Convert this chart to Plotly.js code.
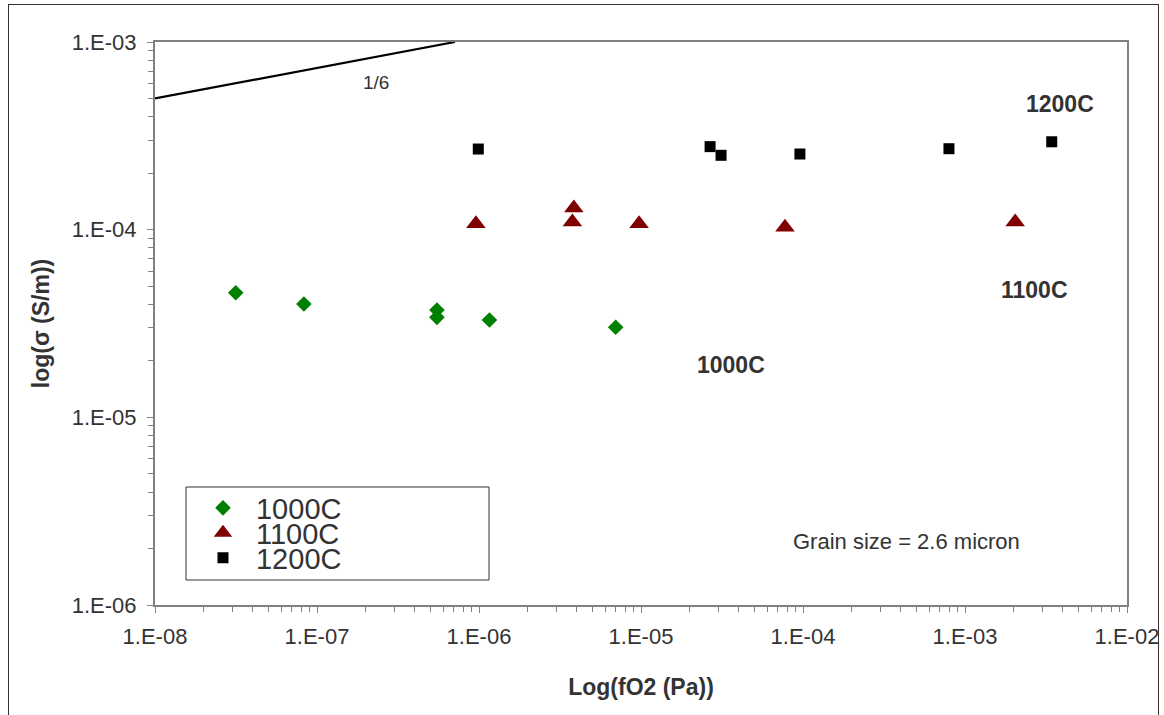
<!DOCTYPE html>
<html>
<head>
<meta charset="utf-8">
<script src="https://cdn.plot.ly/plotly-3.0.1.min.js"></script>
<style>
  html, body { margin: 0; padding: 0; background: #fff; }
  #chart { width: 1164px; height: 715px; position: absolute; left: 0; top: 0; }
  #frame { position: absolute; left: 8px; top: 4px; width: 1149px; height: 740px; border: 1px solid #333; pointer-events: none; }
</style>
</head>
<body>
<div id="chart"></div>
<div id="frame"></div>
<script>
// ---- data ----
const fo2_1000C = [3.15e-8, 8.3e-8, 5.5e-7, 5.5e-7, 1.16e-6, 6.98e-6];
const sig_1000C = [4.61e-5, 4.02e-5, 3.73e-5, 3.41e-5, 3.30e-5, 3.02e-5];

const fo2_1100C = [9.57e-7, 3.85e-6, 3.77e-6, 9.73e-6, 7.74e-5, 2.04e-3];
const sig_1100C = [1.075e-4, 1.305e-4, 1.10e-4, 1.075e-4, 1.03e-4, 1.10e-4];

const fo2_1200C = [9.9e-7, 2.67e-5, 3.12e-5, 9.57e-5, 7.96e-4, 3.43e-3];
const sig_1200C = [2.69e-4, 2.77e-4, 2.49e-4, 2.53e-4, 2.70e-4, 2.94e-4];

// reference slope line labelled 1/6
const slope_x = [1e-8, 7.1e-7];
const slope_y = [5e-4, 1e-3];

const seriesNames = ["1000C", "1100C", "1200C"];
const xTickVals = [1e-8, 1e-7, 1e-6, 1e-5, 1e-4, 1e-3, 1e-2];
const xTickText = ["1.E-08", "1.E-07", "1.E-06", "1.E-05", "1.E-04", "1.E-03", "1.E-02"];
const yTickVals = [1e-6, 1e-5, 1e-4, 1e-3];
const yTickText = ["1.E-06", "1.E-05", "1.E-04", "1.E-03"];
const minorDigits = [2, 3, 4, 5, 6, 7, 8, 9];

function minorTicks(decades) {
  const out = [];
  decades.forEach(d => { if (d < decades[decades.length - 1]) minorDigits.forEach(m => out.push(m * d)); });
  return out;
}

const FONT = "Liberation Sans, Arial, Helvetica, sans-serif";
const TXT = "#333333";

const traces = [
  { x: slope_x, y: slope_y, mode: "lines", line: { color: "#000", width: 2.2 }, showlegend: false, hoverinfo: "skip" },
  { x: fo2_1000C, y: sig_1000C, name: seriesNames[0], mode: "markers", legend: "legend",
    marker: { symbol: "diamond", size: 12, color: "#008000" } },
  { x: fo2_1100C, y: sig_1100C, name: seriesNames[1], mode: "markers", legend: "legend2",
    marker: { symbol: "triangle-up", size: 17, color: "#800000" } },
  { x: fo2_1200C, y: sig_1200C, name: seriesNames[2], mode: "markers", legend: "legend3",
    marker: { symbol: "square", size: 11, color: "#000000" } }
];

const legendBase = {
  x: 0.036, xanchor: "left", yanchor: "middle",
  bgcolor: "rgba(0,0,0,0)", borderwidth: 0,
  font: { family: FONT, size: 29, color: TXT },
  itemwidth: 56, itemclick: false, itemdoubleclick: false
};

const layout = {
  width: 1164, height: 715,
  margin: { l: 155, r: 37, t: 42, b: 110 },
  paper_bgcolor: "#fff", plot_bgcolor: "#fff",
  font: { family: FONT, color: TXT, size: 22 },
  xaxis: {
    type: "log", range: [-8, -2],
    tickvals: xTickVals, ticktext: xTickText,
    ticks: "outside", ticklen: 6, tickcolor: "#808080", tickwidth: 1,
    showline: true, mirror: true, linecolor: "#808080", linewidth: 2,
    showgrid: false, zeroline: false, ticklabelstandoff: 5,
    tickfont: { family: FONT, size: 22, color: TXT },
    minor: { tickvals: minorTicks(xTickVals), ticks: "outside", ticklen: 5, tickcolor: "#808080", showgrid: false },
    title: { text: "<b>Log(fO2 (Pa))</b>", font: { family: FONT, size: 23, color: TXT }, standoff: 30 }
  },
  yaxis: {
    type: "log", range: [-6, -3],
    tickvals: yTickVals, ticktext: yTickText,
    ticks: "outside", ticklen: 6, tickcolor: "#808080", tickwidth: 1,
    showline: true, mirror: true, linecolor: "#808080", linewidth: 2,
    showgrid: false, zeroline: false, ticklabelstandoff: 6,
    tickfont: { family: FONT, size: 22, color: TXT },
    minor: { tickvals: minorTicks(yTickVals), ticks: "outside", ticklen: 5, tickcolor: "#808080", showgrid: false },
    title: { text: "<b>log(σ (S/m))</b>", font: { family: FONT, size: 23, color: TXT }, standoff: 16 }
  },
  legend: Object.assign({}, legendBase, { y: 0.1723 }),
  legend2: Object.assign({}, legendBase, { y: 0.1279 }),
  legend3: Object.assign({}, legendBase, { y: 0.0835 }),
  shapes: [
    { type: "rect", xref: "paper", yref: "paper",
      x0: (186 - 155) / 972, x1: (489 - 155) / 972, y0: (605 - 580) / 563, y1: (605 - 487) / 563,
      line: { color: "#333", width: 1 }, fillcolor: "rgba(0,0,0,0)", layer: "above" }
  ],
  annotations: [
    { text: "1/6", x: Math.log10(2.31e-7), y: Math.log10(6.12e-4), xref: "x", yref: "y", showarrow: false,
      font: { family: FONT, size: 19, color: TXT } },
    { text: "<b>1200C</b>", x: Math.log10(3.86e-3), y: Math.log10(4.68e-4), xref: "x", yref: "y", showarrow: false,
      font: { family: FONT, size: 23, color: TXT } },
    { text: "<b>1100C</b>", x: Math.log10(2.67e-3), y: Math.log10(4.78e-5), xref: "x", yref: "y", showarrow: false,
      font: { family: FONT, size: 23, color: TXT } },
    { text: "<b>1000C</b>", x: Math.log10(3.6e-5), y: Math.log10(1.9e-5), xref: "x", yref: "y", showarrow: false,
      font: { family: FONT, size: 23, color: TXT } },
    { text: "Grain size = 2.6 micron", x: Math.log10(4.33e-4), y: Math.log10(2.17e-6), xref: "x", yref: "y", showarrow: false,
      font: { family: FONT, size: 22, color: TXT } }
  ]
};

Plotly.newPlot("chart", traces, layout, { displayModeBar: false, staticPlot: true });
</script>
</body>
</html>
